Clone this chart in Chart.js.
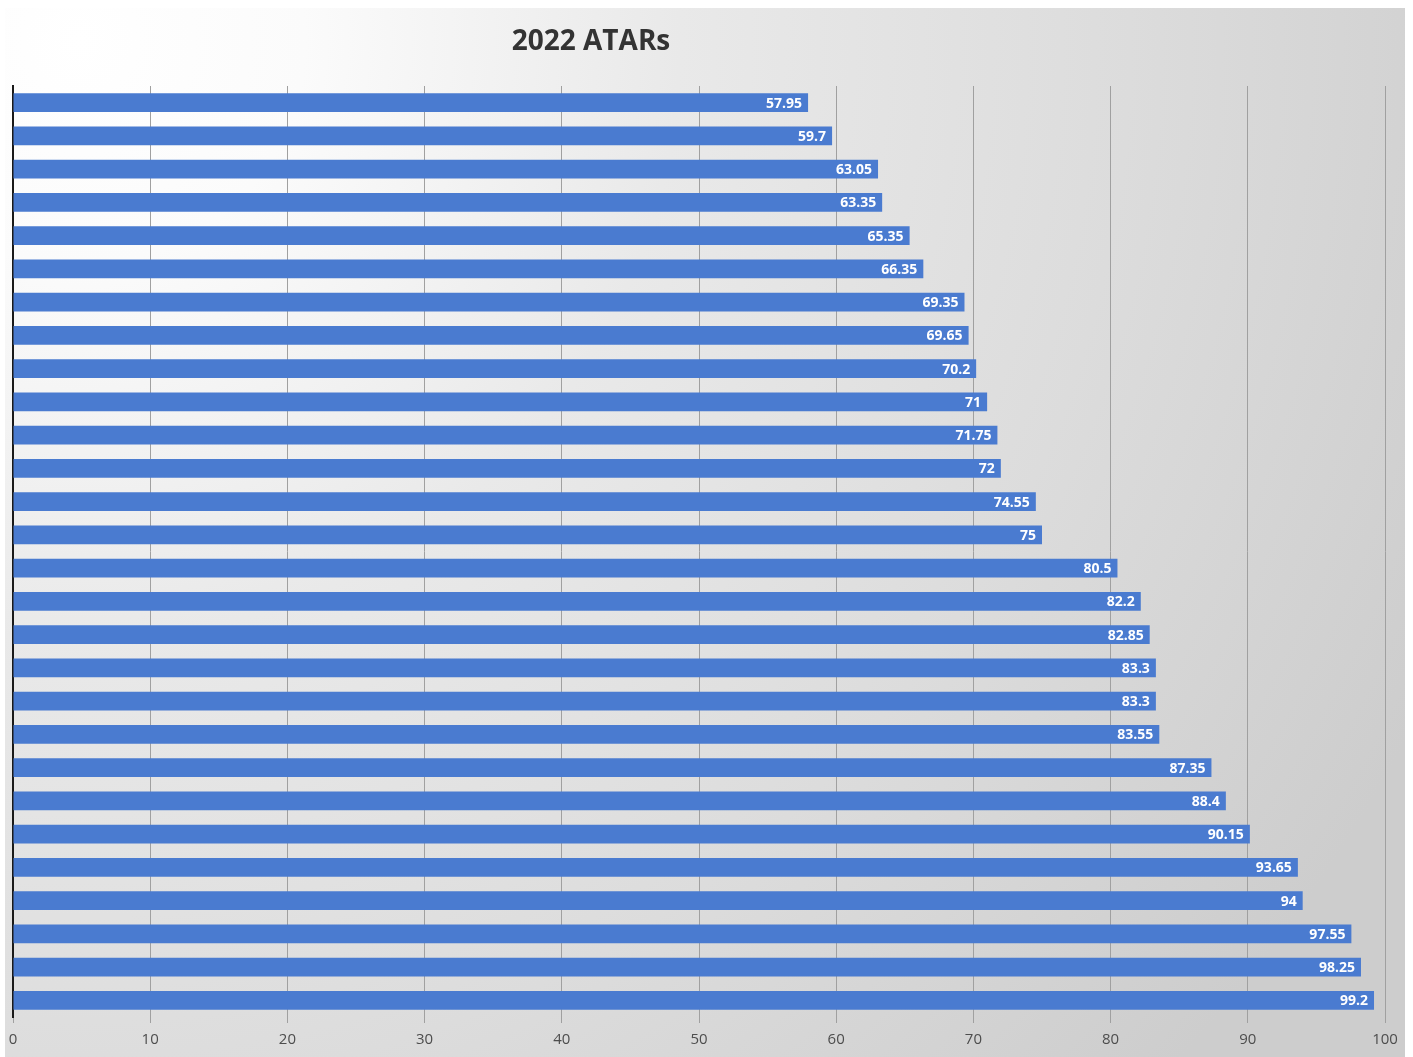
<!DOCTYPE html>
<html>
<head>
<meta charset="utf-8">
<script src="https://cdn.jsdelivr.net/npm/chart.js@4"></script>
<style>
  html, body { margin: 0; padding: 0; background: #ffffff; }
  #wrap { width: 1413px; height: 1057px; position: relative; }
</style>
</head>
<body>
<div id="wrap"><canvas id="barChart"></canvas></div>
<script>
// dados do grafico (de cima para baixo)
var chartTitle = '2022 ATARs';
var alunos = ['1', '2', '3', '4', '5', '6', '7', '8', '9', '10', '11', '12', '13', '14',
    '15', '16', '17', '18', '19', '20', '21', '22', '23', '24', '25', '26', '27', '28'];
var atars = [57.95, 59.7, 63.05, 63.35, 65.35, 66.35, 69.35, 69.65, 70.2, 71, 71.75, 72, 74.55, 75,
    80.5, 82.2, 82.85, 83.3, 83.3, 83.55, 87.35, 88.4, 90.15, 93.65, 94, 97.55, 98.25, 99.2];
var xTicks = [0, 10, 20, 30, 40, 50, 60, 70, 80, 90, 100];

// fundo em degrade + titulo
var fundoPlugin = {
    id: 'fundo',
    beforeDraw: function (chart) {
        var ctx = chart.ctx;
        ctx.save();
        var g = ctx.createRadialGradient(80, 40, 0, 80, 40, 1500);
        g.addColorStop(0, '#ffffff');
        g.addColorStop(0.15, '#fbfbfb');
        g.addColorStop(0.4, '#e9e9e9');
        g.addColorStop(0.7, '#dcdcdc');
        g.addColorStop(1, '#cdcdcd');
        ctx.fillStyle = g;
        ctx.fillRect(5, 8, 1400, 1049);
        ctx.fillStyle = '#333333';
        ctx.font = 'bold 28px "Open Sans"';
        ctx.textAlign = 'center';
        ctx.textBaseline = 'middle';
        ctx.fillText(chartTitle, 591, 42);
        ctx.restore();
    }
};

// rotulos de valor dentro das barras
var rotulosPlugin = {
    id: 'rotulos',
    afterDatasetsDraw: function (chart) {
        var ctx = chart.ctx;
        var meta = chart.getDatasetMeta(0);
        ctx.save();
        ctx.fillStyle = '#ffffff';
        ctx.font = 'bold 14px "Open Sans"';
        ctx.textAlign = 'right';
        ctx.textBaseline = 'middle';
        meta.data.forEach(function (bar, i) {
            ctx.fillText(String(atars[i]), bar.x - 6, bar.y + 1);
        });
        ctx.restore();
    }
};

var ctx = document.getElementById('barChart').getContext('2d');

var barChart = new Chart(ctx, {
    type: 'bar',
    data: {
        labels: alunos,
        datasets: [{
            data: atars,
            backgroundColor: '#4a7bd0',
            barPercentage: 0.56,
            categoryPercentage: 1.0
        }]
    },
    options: {
        indexAxis: 'y',
        responsive: true,
        maintainAspectRatio: false,
        animation: false,
        layout: { padding: { left: 12, right: 28, top: 86, bottom: 6 } },
        plugins: {
            legend: { display: false },
            tooltip: { enabled: false },
            title: { display: false }
        },
        scales: {
            x: {
                min: 0,
                max: 100,
                afterBuildTicks: function (axis) {
                    axis.ticks = xTicks.map(function (v) { return { value: v }; });
                },
                grid: { color: '#a0a0a0', lineWidth: 1, tickLength: 6 },
                border: { display: false },
                ticks: {
                    color: '#4d4d4d',
                    font: { family: 'Open Sans', size: 15 },
                    padding: 8,
                    maxRotation: 0
                },
                afterFit: function (axis) { axis.height = 34; }
            },
            y: {
                grid: { display: false, drawTicks: false },
                border: { display: true, color: '#1a1a1a', width: 2 },
                ticks: { display: false },
                afterFit: function (axis) { axis.width = 1; }
            }
        }
    },
    plugins: [fundoPlugin, rotulosPlugin]
});
</script>
</body>
</html>
